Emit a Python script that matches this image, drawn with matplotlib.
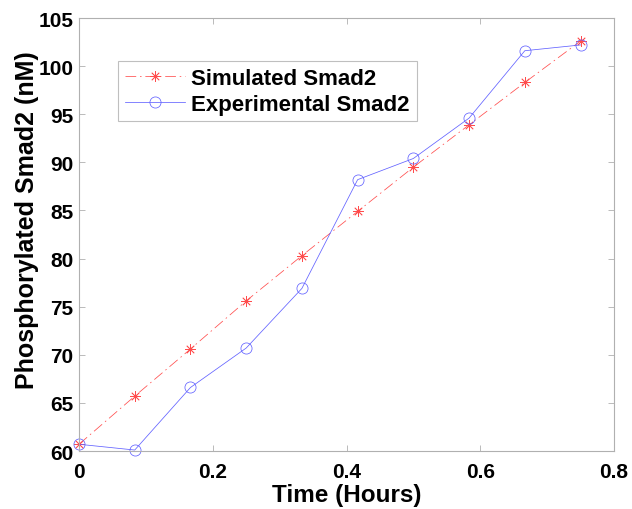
import matplotlib
matplotlib.use("Agg")
import matplotlib.pyplot as plt
import numpy as np

plt.rcParams['font.family'] = ['Liberation Sans', 'DejaVu Sans']

time_hours = [0, 1/12, 2/12, 3/12, 4/12, 5/12, 6/12, 7/12, 8/12, 9/12]
simulated = [60.7, 65.7, 70.6, 75.6, 80.3, 84.9, 89.5, 93.9, 98.3, 102.6]
experimental = [60.7, 60.1, 66.6, 70.7, 76.9, 88.2, 90.4, 94.6, 101.6, 102.2]
x_ticks = [0, 0.2, 0.4, 0.6, 0.8]
y_ticks = [60, 65, 70, 75, 80, 85, 90, 95, 100, 105]

fig = plt.figure(figsize=(6.32, 5.10), dpi=100)
ax = fig.add_axes([79/632, 1 - 452/510, (614 - 79)/632, (452 - 19)/510])

ax.plot(time_hours, simulated, color='#ff4d4d', linestyle=(0, (14, 5, 2, 5)), linewidth=0.55,
        marker=(8, 2, 0), markersize=7.5, markeredgewidth=0.55,
        label='Simulated Smad2', clip_on=False)
ax.plot(time_hours, experimental, color='#6262ff', linestyle='-', linewidth=0.55,
        marker='o', markersize=8, markerfacecolor='none', markeredgewidth=0.55,
        label='Experimental Smad2', clip_on=False)

ax.set_xlim(0, 0.8)
ax.set_ylim(60, 105)
ax.set_xticks(x_ticks)
ax.set_xticklabels(['0', '0.2', '0.4', '0.6', '0.8'])
ax.set_yticks(y_ticks)
ax.set_yticklabels([str(v) for v in y_ticks])
ax.tick_params(direction='in', top=True, right=True, length=4, width=0.6,
               colors='#b0b0b0', labelcolor='black', labelsize=15)
ax.tick_params(axis='x', pad=8)
ax.tick_params(axis='y', pad=4)
for lab in ax.get_xticklabels() + ax.get_yticklabels():
    lab.set_fontweight('bold')
for s in ax.spines.values():
    s.set_color('#b0b0b0')
    s.set_linewidth(0.8)

ax.set_xlabel('Time (Hours)', fontsize=17.5, fontweight='bold')
ax.set_ylabel('Phosphorylated Smad2 (nM)', fontsize=18, fontweight='bold')
ax.xaxis.set_label_coords(0.5, (452 - 484) / 433)
ax.yaxis.set_label_coords((39 - 79) / 535, (452 - 220) / 433)

leg = ax.legend(loc='upper left', bbox_to_anchor=((118 - 79)/535, 1 - (62 - 19)/433),
                prop={'weight': 'bold', 'size': 16},
                frameon=True, fancybox=False, edgecolor='#b0b0b0',
                borderpad=0.3, handlelength=2.7, handletextpad=0.3, labelspacing=0.23,
                borderaxespad=0)
leg.get_frame().set_linewidth(0.8)

fig.savefig('out.png', dpi=100)
